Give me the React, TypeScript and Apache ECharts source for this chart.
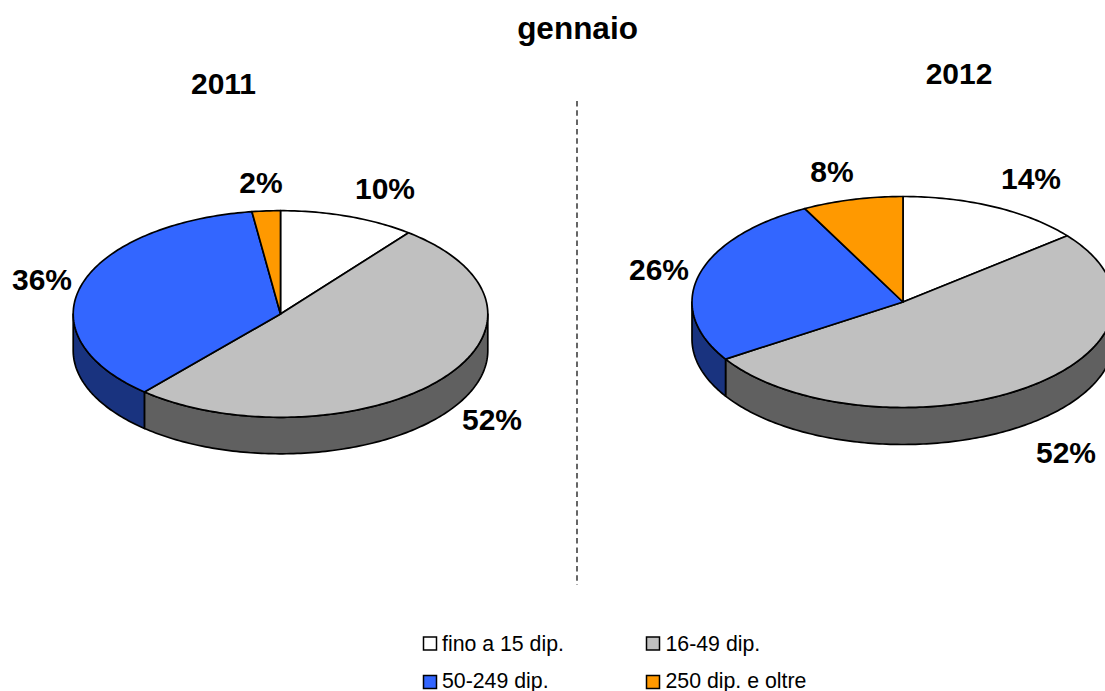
import React, { useEffect, useRef } from "react";
import * as echarts from "echarts";

const title = "gennaio";
const categories = ["fino a 15 dip.", "16-49 dip.", "50-249 dip.", "250 dip. e oltre"];
const yearNames = ["2011", "2012"];
const labels2011 = [10, 52, 36, 2];
const labels2012 = [14, 52, 26, 8];
// Slice shares as drawn in the picture (percent of the full turn)
const shares2011 = [10.6, 50.8, 36.4, 2.2];
const shares2012 = [14.2, 51.7, 26.4, 7.7];

const topColors = ["#FFFFFF", "#C0C0C0", "#3366FF", "#FF9900"];
const wallColors = ["#808080", "#606060", "#19337F", "#805000"];
const FONT = "'Liberation Sans', Arial, sans-serif";

const pieLayouts = [
  {
    cx: 280.5, cy: 314, rx: 207.3, ry: 103.3, depth: 36.5,
    labelPos: [[385, 188], [492, 419], [42, 279], [261, 182]],
  },
  {
    cx: 903, cy: 302, rx: 211, ry: 105.5, depth: 37,
    labelPos: [[1031, 178], [1066, 452], [659, 269], [832, 171]],
  },
];

function rimPoint(l: any, deg: number, dy = 0): number[] {
  const a = (deg * Math.PI) / 180;
  return [l.cx + l.rx * Math.sin(a), l.cy - l.ry * Math.cos(a) + dy];
}

function arcPoints(l: any, from: number, to: number, dy = 0): number[][] {
  const n = Math.max(2, Math.ceil((to - from) / 1) + 1);
  const pts: number[][] = [];
  for (let i = 0; i < n; i++) pts.push(rimPoint(l, from + ((to - from) * i) / (n - 1), dy));
  return pts;
}

function pieSeries(layoutIndex: number, shares: number[], labels: number[]) {
  const l = pieLayouts[layoutIndex];
  let cum = 0;
  const data = shares.map((s, i) => {
    const item = { value: [cum, cum + s, labels[i]], name: categories[i] };
    cum += s;
    return item;
  });
  return {
    type: "custom",
    coordinateSystem: "none",
    silent: true,
    clip: false,
    data,
    renderItem: (params: any, api: any) => {
      const i = params.dataIndex;
      const from = (api.value(0) / 100) * 360;
      const to = (api.value(1) / 100) * 360;
      const children: any[] = [];
      const style = (fill: string) => ({ fill, stroke: "#000", lineWidth: 1.7, lineJoin: "round" });
      const wf = Math.max(from, 90);
      const wt = Math.min(to, 270);
      if (wt > wf) {
        const top = arcPoints(l, wf, wt);
        const bottom = arcPoints(l, wf, wt, l.depth).reverse();
        children.push({
          type: "polygon",
          shape: { points: top.concat(bottom) },
          style: style(wallColors[i]),
        });
      }
      children.push({
        type: "polygon",
        shape: { points: [[l.cx, l.cy], ...arcPoints(l, from, to)] },
        style: style(topColors[i]),
      });
      const [tx, ty] = l.labelPos[i];
      children.push({
        type: "text",
        x: tx,
        y: ty,
        z2: 50,
        style: {
          text: api.value(2) + "%",
          fill: "#000",
          font: `bold 30px ${FONT}`,
          align: "center",
          verticalAlign: "middle",
        },
      });
      return { type: "group", children };
    },
  };
}

const legendCells = [
  [423.5, 637, 442, 643.5],
  [646.5, 637, 665.5, 643.5],
  [423.5, 675.5, 442, 680.5],
  [646.5, 675.5, 665.5, 680.5],
];

function legendGraphics() {
  const out: any[] = [];
  categories.forEach((c, i) => {
    const [bx, by, tx, ty] = legendCells[i];
    out.push({
      type: "rect",
      shape: { x: bx, y: by, width: 13, height: 13 },
      style: { fill: topColors[i], stroke: "#000", lineWidth: 1.5 },
    });
    out.push({
      type: "text",
      x: tx,
      y: ty,
      style: { text: c, fill: "#000", font: `21.3px ${FONT}`, align: "left", verticalAlign: "middle" },
    });
  });
  return out;
}

function headText(text: string, x: number, y: number, size: number) {
  return {
    type: "text",
    x,
    y,
    style: { text, fill: "#000", font: `bold ${size}px ${FONT}`, align: "center", verticalAlign: "middle" },
  };
}

export default function App() {
  const ref = useRef<HTMLDivElement>(null);
  useEffect(() => {
    document.body.style.margin = "0";
    document.body.style.background = "#fff";
    const chart = echarts.init(ref.current!, null, { renderer: "svg" });
    chart.setOption({
      animation: false,
      backgroundColor: "#fff",
      series: [pieSeries(0, shares2011, labels2011), pieSeries(1, shares2012, labels2012)],
      graphic: [
        headText(title, 577.5, 28, 31.5),
        headText(yearNames[0], 223.5, 83, 30),
        headText(yearNames[1], 959, 73, 30),
        {
          type: "line",
          shape: { x1: 577, y1: 101, x2: 577, y2: 585 },
          style: { stroke: "#000", lineWidth: 1.2, lineDash: [5.5, 3.8] },
        },
        ...legendGraphics(),
      ],
    });
    return () => chart.dispose();
  }, []);
  return <div ref={ref} style={{ width: 1105, height: 691 }} />;
}
